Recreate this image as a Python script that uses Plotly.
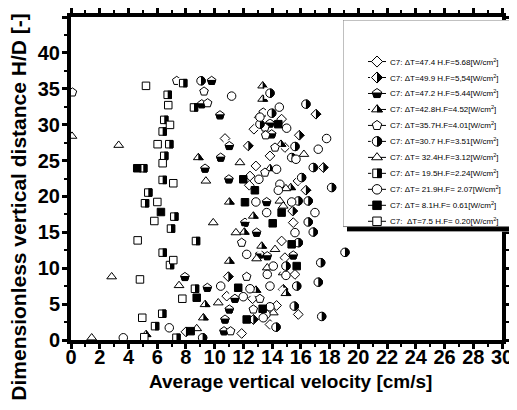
import plotly.graph_objects as go

FONT = "Arial, Liberation Sans, sans-serif"

# ---- values: average vertical velocity [cm/s] / H/D [-] ----
# C7: dT=47.4 H.F=5.68  (open diamond)
dt474_v = [12.73, 14.66, 13.10, 10.72, 14.89, 13.85, 12.87, 12.46, 15.80, 12.41,
           15.47, 14.66, 14.89, 15.59, 10.84, 12.64, 14.31, 15.82, 13.85, 11.88]
dt474_hd = [29.37, 30.77, 31.00, 28.07, 26.82, 25.65, 24.25, 22.85, 22.16, 21.56,
            16.35, 13.79, 11.47, 9.14, 6.11, 5.75, 4.81, 3.56, 2.16, 0.91]

# C7: dT=49.9 H.F=5,54  (half filled diamond)
dt499_v = [8.00, 12.34, 15.89, 17.05, 17.56, 16.35, 15.43, 10.95, 14.77, 12.69]
dt499_hd = [1.14, 27.04, 28.53, 31.46, 24.03, 20.86, 17.97, 8.82, 7.05, 2.86]

# C7: dT=47.2 H.F=5.44  (half filled pentagon)
dt472_v = [9.79, 9.10, 10.37, 11.02, 10.42, 9.33, 10.99, 13.62, 12.11, 12.92, 13.15,
           13.66, 15.47, 7.93, 9.49, 11.41, 11.02, 10.72, 10.65, 13.85, 13.97]
dt472_hd = [36.11, 32.86, 31.32, 27.04, 25.42, 23.89, 22.39, 19.23, 16.35, 14.96, 11.93,
            11.69, 11.79, 8.79, 7.28, 5.75, 4.26, 2.86, 1.23, 30.17, 28.67]

# C7: dT=42.8 H.F=4.52  (half filled triangle)
dt428_v = [13.34, 13.34, 14.61, 8.86, 13.85, 15.29, 11.02, 12.69, 12.06, 13.27,
           11.02, 14.77, 12.87, 14.96, 9.33, 9.21, 5.22]
dt428_hd = [35.41, 33.56, 27.28, 25.42, 23.89, 21.24, 19.23, 17.27, 15.04, 13.09,
            10.99, 9.38, 6.95, 6.49, 4.95, 3.10, 0.77]

# C7: dT=35.7 H.F=4.01  (open pentagon)
dt357_v = [7.36, 9.26, 9.51, 13.38, 13.50, 13.55, 14.20, 13.50, 11.88, 12.23,
           13.15, 12.69, 11.11, 0.10]
dt357_hd = [36.11, 34.63, 33.00, 31.70, 29.61, 28.53, 26.82, 23.33, 13.56, 8.82,
            5.75, 4.26, 1.23, 34.50]

# C7: dT=30.7 H.F=3.51  (half filled circle)
dt307_v = [9.05, 13.85, 16.35, 13.97, 13.15, 15.59, 15.36, 16.86, 16.05, 18.14, 15.82, 16.51,
           16.51, 16.86, 15.82, 19.07, 17.38, 14.96, 17.21, 15.71, 15.54, 17.45, 14.27, 9.16]
dt307_hd = [36.11, 34.39, 32.86, 31.60, 30.07, 26.96, 25.42, 24.03, 22.63, 21.24, 19.37, 19.37,
            16.44, 15.04, 13.56, 12.21, 10.77, 10.30, 8.06, 7.51, 4.72, 3.28, 1.79, 0.31]

# C7: dT=32.4 H.F=3.12  (open triangle)
dt324_v = [3.32, 0.07, 2.83, 1.44, 7.52, 8.75, 10.25, 9.90, 9.39, 11.76, 16.21,
           14.96, 14.54, 14.77, 11.48, 12.92, 14.20, 13.66, 14.08]
dt324_hd = [27.14, 28.40, 8.82, 0.31, 7.60, 1.60, 5.19, 16.35, 22.16, 24.72, 25.88,
            21.10, 19.37, 18.67, 14.96, 11.33, 12.63, 10.07, 3.80]

# C7: dT=19.5 H.F=2.24  (half filled square)
dt195_v = [7.81, 6.73, 8.56, 6.49, 6.38, 6.84, 6.49, 5.03, 6.38, 5.38,
           5.15, 7.19, 6.96, 6.38, 6.89, 8.70, 8.63, 6.35, 5.85, 7.34]
dt195_hd = [35.79, 34.16, 32.40, 30.67, 29.05, 27.28, 25.65, 23.93, 22.30, 20.54,
            19.05, 17.19, 15.52, 12.17, 10.44, 13.79, 7.14, 3.66, 1.93, 0.31]

# C7: dT=21.9 H.F=2.07  (open circle)
dt219_v = [11.18, 14.50, 13.15, 15.01, 17.79, 17.21, 15.66, 14.31, 13.08, 14.54,
           14.43, 12.87, 15.36, 13.62, 16.98, 15.59, 12.23, 14.08, 13.66, 14.96,
           10.42, 12.46, 13.85, 11.99, 13.85, 13.57, 13.38, 6.84, 3.64]
dt219_hd = [33.98, 32.44, 31.05, 29.51, 28.07, 26.58, 25.18, 23.79, 22.39, 21.70,
            20.86, 19.23, 19.23, 17.75, 17.75, 14.96, 11.93, 10.30, 9.14, 9.00,
            7.51, 7.14, 7.51, 6.03, 4.63, 3.56, 3.10, 1.70, 0.31]

# C7: dT=8.1 H.F=0.61  (filled square)
dt81_v = [4.61, 6.26, 8.33, 8.75, 14.43, 11.99, 12.80, 12.11, 14.66, 14.04,
          15.36, 15.71, 11.64, 13.34, 12.23]
dt81_hd = [23.93, 17.83, 1.23, 5.89, 30.07, 22.39, 20.86, 19.19, 17.75, 16.26,
           13.33, 10.30, 7.28, 4.35, 2.86]

# C7: dT=7.5 H.F=0.20  (open square)
dt75_v = [5.22, 6.77, 6.89, 6.03, 6.38, 7.12, 6.01, 5.80, 4.64, 7.12, 4.80, 7.75, 4.96, 5.10]
dt75_hd = [35.41, 32.72, 29.97, 27.28, 24.63, 21.84, 19.23, 16.58, 13.88, 11.13,
           8.44, 5.75, 3.10, 0.39]

legend_labels = [
    "C7: \u0394T=47.4 H.F=5.68[W/cm<sup>2</sup>]",
    "C7: \u0394T=49.9 H.F=5,54[W/cm<sup>2</sup>]",
    "C7: \u0394T=47.2 H.F=5.44[W/cm<sup>2</sup>]",
    "C7: \u0394T=42.8H.F=4.52[W/cm<sup>2</sup>]",
    "C7: \u0394T=35.7H.F=4.01[W/cm<sup>2</sup>]",
    "C7: \u0394T=30.7 H.F=3.51[W/cm<sup>2</sup>]",
    "C7: \u0394T= 32.4H.F=3.12[W/cm<sup>2</sup>]",
    "C7: \u0394T= 19.5H.F=2.24[W/cm<sup>2</sup>]",
    "C7: \u0394T= 21.9H.F= 2.07[W/cm<sup>2</sup>]",
    "C7: \u0394T= 8.1H.F= 0.61[W/cm<sup>2</sup>]",
    "C7:  \u0394T=7.5 H.F= 0.20[W/cm<sup>2</sup>]",
]

# (x, y, symbol, size, which part is black)
series = [
    (dt474_v, dt474_hd, "diamond", 7.5, None),
    (dt499_v, dt499_hd, "diamond", 7.5, "right"),
    (dt472_v, dt472_hd, "pentagon", 9, "bottom"),
    (dt428_v, dt428_hd, "triangle-up", 8.5, "right"),
    (dt357_v, dt357_hd, "pentagon", 9, None),
    (dt307_v, dt307_hd, "circle", 8.5, "right"),
    (dt324_v, dt324_hd, "triangle-up", 8.5, None),
    (dt195_v, dt195_hd, "square", 7.5, "right"),
    (dt219_v, dt219_hd, "circle", 8.5, None),
    (dt81_v, dt81_hd, "square", 7.5, "full"),
    (dt75_v, dt75_hd, "square", 7.5, None),
]


def extents(symbol, size):
    # half width, extent above centre, extent below centre (px)
    r = size / 2
    if symbol == "diamond":
        return 1.3 * r, 1.3 * r, 1.3 * r
    if symbol == "triangle-up":
        return 1.155 * r, r, 0.5 * r
    if symbol == "pentagon":
        return 0.951 * r, r, 0.809 * r
    return r, r, r


def marker_traces(x, y, symbol, size, half, xaxis="x", yaxis="y"):
    common = dict(x=x, y=y, mode="markers", showlegend=False, hoverinfo="skip",
                  xaxis=xaxis, yaxis=yaxis)
    outline = dict(color="black", width=1)
    if half is None:
        return [go.Scatter(**common, marker=dict(symbol=symbol, size=size, color="white", line=outline))]
    if half == "full":
        return [go.Scatter(**common, marker=dict(symbol=symbol, size=size, color="black", line=outline))]
    hw, top, bot = extents(symbol, size)
    if half == "right":
        # white bar hiding the left half of a black marker
        w = hw + 1.5
        bar = dict(symbol="line-ew", angle=90, standoff=w / 2, size=(2 * max(top, bot) + 3) / 1.4,
                   color="white", line=dict(color="white", width=w))
    else:
        # white bar hiding the top part
        edge = 0.2 * top
        w = top + 1.2 - edge
        bar = dict(symbol="line-ew", angle=180, standoff=edge + w / 2, size=(2 * hw + 3) / 1.4,
                   color="white", line=dict(color="white", width=w))
    return [
        go.Scatter(**common, marker=dict(symbol=symbol, size=size, color="black", line=outline)),
        go.Scatter(**common, marker=bar),
        go.Scatter(**common, marker=dict(symbol=symbol + "-open", size=size, color="black", line=outline)),
    ]


fig = go.Figure()

for xs, ys, sym, sz, half in series:
    for tr in marker_traces(xs, ys, sym, sz, half):
        fig.add_trace(tr)

# legend drawn in its own little subplot so it sits above the frame
rows = list(range(len(series)))
for i, (xs, ys, sym, sz, half) in zip(rows, series):
    fig.add_trace(go.Scatter(x=[368, 386], y=[i, i], mode="lines", showlegend=False,
                             hoverinfo="skip", line=dict(color="black", width=1),
                             xaxis="x2", yaxis="y2"))
    for tr in marker_traces([377], [i], sym, sz + 1, half, "x2", "y2"):
        fig.add_trace(tr)
    fig.add_annotation(x=388, y=i, xref="x2", yref="y2", text=legend_labels[i],
                       showarrow=False, xanchor="left", yanchor="middle",
                       font=dict(family="Liberation Sans, Arial, sans-serif", size=8, color="black"))

fig.add_shape(type="rect", xref="x2", yref="y2", x0=347, x1=520, y0=-2.35, y1=10.64,
              fillcolor="black", line=dict(width=0), layer="below")
fig.add_shape(type="rect", xref="x2", yref="y2", x0=343, x1=514, y0=-2.6, y1=10.33,
              fillcolor="white", line=dict(color="#808080", width=1), layer="below")

# axis titles
fig.add_annotation(text="Average vertical velocity [cm/s]", xref="paper", yref="paper",
                   x=219 / 446, y=-41.5 / 323.5, xanchor="center", yanchor="middle",
                   showarrow=False, font=dict(family=FONT, size=19, color="black", weight="bold"))
fig.add_annotation(text="Dimensionless vertical distance H/D [-]", xref="paper", yref="paper",
                   x=-52 / 446, y=132.5 / 323.5, xanchor="center", yanchor="middle", textangle=-90,
                   showarrow=False, font=dict(family=FONT, size=21, color="black", weight="bold"))

tick_font = dict(family=FONT, size=20, color="black", weight="bold")
axis_common = dict(showline=True, linewidth=4, linecolor="black", mirror="ticks",
                   ticks="outside", ticklen=5, tickwidth=3, tickcolor="black",
                   showgrid=False, zeroline=False, tickfont=tick_font, automargin=False)

# the page body adds 8px around the figure, so the figure is 8px smaller
fig.update_layout(
    width=509, height=402,
    margin=dict(l=63, r=0, t=9, b=69.5, autoexpand=False),
    paper_bgcolor="white", plot_bgcolor="white",
    showlegend=False,
    xaxis=dict(
        domain=[0, 431 / 446], range=[0, 30], tick0=0, dtick=2, ticklabelstandoff=-9,
        minor=dict(dtick=1, ticks="outside", ticklen=3, tickwidth=2, tickcolor="black", showgrid=False),
        **axis_common,
    ),
    yaxis=dict(
        range=[0, 45], tick0=0, dtick=5, ticklabelstandoff=-2,
        minor=dict(dtick=2.5, ticks="outside", ticklen=3, tickwidth=2, tickcolor="black", showgrid=False),
        **axis_common,
    ),
    xaxis2=dict(domain=[272 / 446, 1], range=[343, 517], anchor="y2", visible=False, fixedrange=True),
    yaxis2=dict(domain=[108.5 / 323.5, 320.5 / 323.5], range=[10.65, -2.6], anchor="x2",
                visible=False, fixedrange=True),
)

fig.write_html("out.html")
